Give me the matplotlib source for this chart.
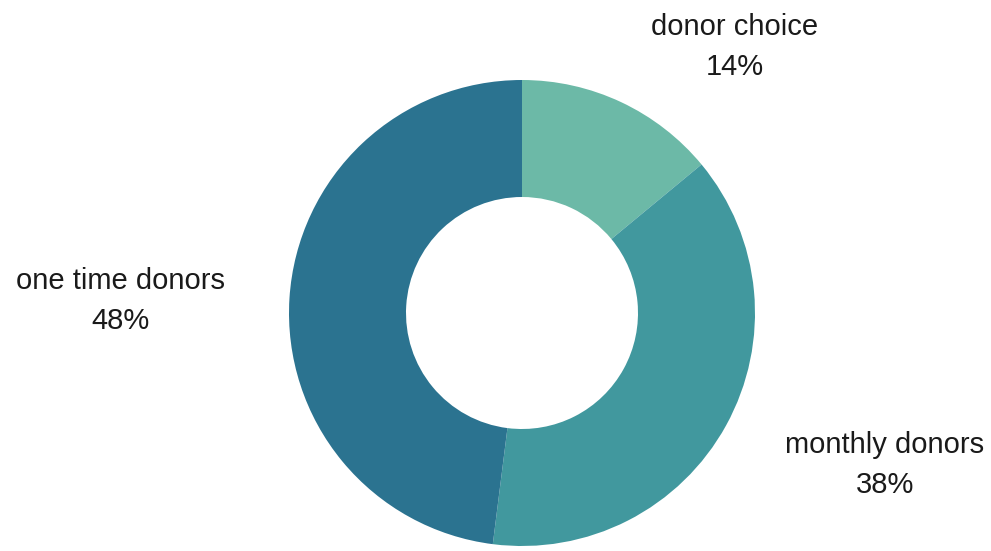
import matplotlib
matplotlib.use("Agg")
import matplotlib.pyplot as plt

# data
labels = ["donor choice", "monthly donors", "one time donors"]
shares = [14, 38, 48]
colors = ["#6cb9a7", "#41989e", "#2b7390"]

# label anchor positions (pixels from top-left, centre of the two-line label)
label_pos = [(735, 47), (885, 465), (120, 301)]

H = 551
plt.rcParams["font.family"] = ["Liberation Sans", "DejaVu Sans"]

fig = plt.figure(figsize=(9.91, 5.51), dpi=100)
ax = fig.add_axes([0, 0, 1, 1])

ax.pie(shares, colors=colors, startangle=90, counterclock=False,
       center=(522, H - 313), radius=233,
       wedgeprops=dict(width=117, linewidth=0))

for lab, val, (x, y) in zip(labels, shares, label_pos):
    ax.text(x, H - y, f"{lab}\n{val}%", ha="center", va="center",
            fontsize=21, color="#1a1a1a", linespacing=1.58)

ax.set_xlim(0, 991)
ax.set_ylim(0, H)
ax.set_aspect("equal")
ax.axis("off")

fig.savefig("out.png", dpi=100, facecolor="white")
